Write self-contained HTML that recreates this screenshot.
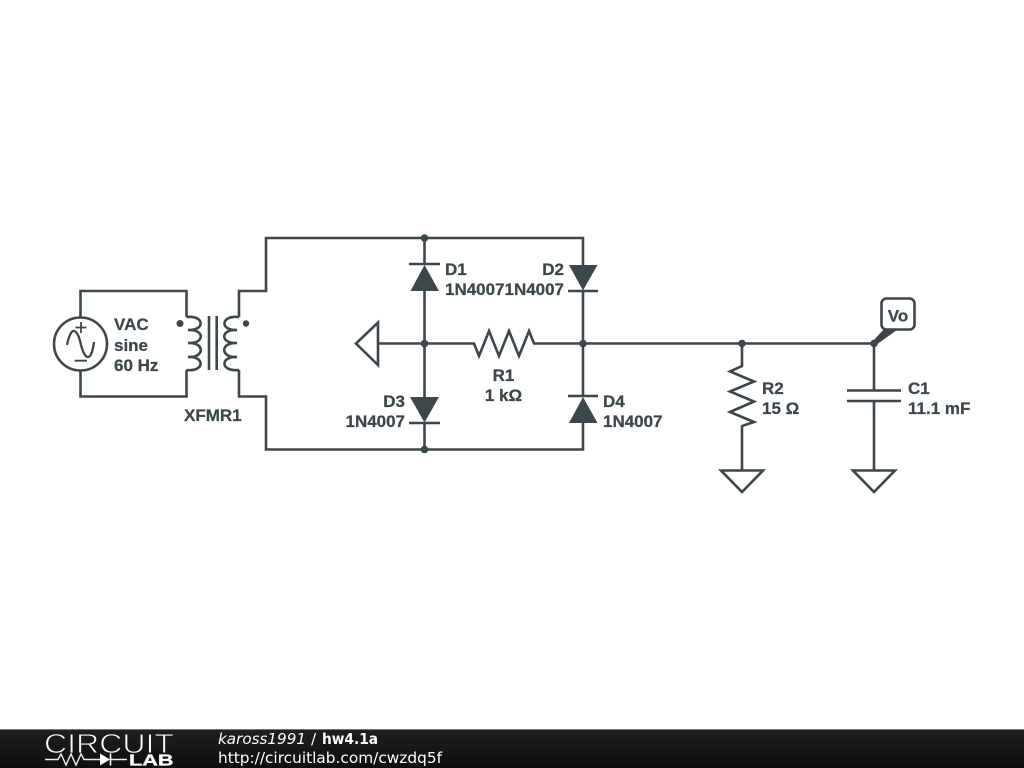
<!DOCTYPE html>
<html>
<head>
<meta charset="utf-8">
<title>hw4.1a</title>
<style>
html,body{margin:0;padding:0;background:#fff;width:1024px;height:768px;overflow:hidden}
svg{display:block;position:absolute;left:0;top:0}
.t{font-family:"Liberation Sans",sans-serif;font-weight:700;font-size:17px;fill:#3c474c;stroke:#3c474c;stroke-width:0.25px}
.f{font-family:"DejaVu Sans",sans-serif;font-size:15.3px;fill:#fff}
.sch{filter:blur(0.35px)}
</style>
</head>
<body>
<svg width="1024" height="768" viewBox="0 0 1024 768" xmlns="http://www.w3.org/2000/svg">
<defs>
<linearGradient id="bar" x1="0" y1="0" x2="0" y2="1">
<stop offset="0" stop-color="#202020"/><stop offset="1" stop-color="#0e0e0e"/>
</linearGradient>
</defs>
<g class="sch">
<g fill="none" stroke="#3c474c" stroke-width="2.600">
<!-- source wiring -->
<path d="M80.500 318V291H186.500V317"/>
<path d="M80.500 370V396.500H186.500V370"/>
<circle cx="80.500" cy="344" r="26.500"/>
<path d="M67 345C69 335 72 330 74 331C78 332 80 340 81 345C83 352 85 357 88 357C91 357 93 350 94 342" stroke-width="2.300"/>
<path d="M81 322V333M75.500 327.500H86.500M74.500 360.700H87" stroke-width="1.800"/>
<!-- transformer -->
<path d="M186.500 317C205 315 205 331 188 330C205 329 205 344 188 343C205 342 205 358 188 357C205 356 205 372 186.500 370"/>
<path d="M239 317C220 315 220 331 237 330C220 329 220 344 237 343C220 342 220 358 237 357C220 356 220 372 239 370"/>
<path d="M209 316V370M216.700 316V370"/>
<!-- bridge wiring -->
<path d="M239 317V291H266V238H583V265"/>
<path d="M239 370V396.500H266V449.500H583V422"/>
<path d="M424.500 238V264M424.500 290V397M424.500 423V449.500"/>
<path d="M583 291V397"/>
<!-- diode bars -->
<path d="M409 264H440M568 291H598M409 423H440M568 396H598"/>
<!-- left ground -->
<path d="M378 322.500V365L356 343.500Z"/>
<!-- R1 and output line -->
<path d="M378 343.500H474L479 356L489 331L499 356L509 331L519 356L529 331L534 343.500H874"/>
<!-- R2 -->
<path d="M742 343.500V366L730 371.500L754 381.500L730 391.500L754 401.500L730 412L754 422L742 426V470"/>
<path d="M721 470.500H763L742 492Z"/>
<!-- C1 -->
<path d="M874 343.500V390M874 401V470"/>
<path d="M847 390.500H901M847 401H901"/>
<path d="M853 470.500H895L874 492Z"/>
<!-- Vo flag -->
<rect x="881.500" y="298.500" width="33" height="31" rx="5" ry="5" fill="#fff"/>
</g>
<g fill="#3c474c">
<circle cx="180" cy="323.500" r="3.500"/>
<circle cx="246" cy="323.500" r="3.200"/>
<polygon points="424.500,265 410.500,291 439,291"/>
<polygon points="569,265 597.500,265 583,290.500"/>
<polygon points="410,397 439,397 424.500,422.500"/>
<polygon points="583,397 569,423 597.500,423"/>
<circle cx="424.500" cy="238" r="3.800"/>
<circle cx="424.500" cy="343.500" r="3.800"/>
<circle cx="583" cy="343.500" r="3.800"/>
<circle cx="424.500" cy="449.500" r="3.800"/>
<circle cx="742" cy="343.500" r="3.800"/>
<circle cx="874" cy="343.500" r="3.800"/>
<polygon points="873,341 884,329 897,330 876,345"/>
</g>
<g>
<text class="t" x="114" y="330">VAC</text>
<text class="t" x="114" y="351">sine</text>
<text class="t" x="114" y="371">60 Hz</text>
<text class="t" x="184" y="421">XFMR1</text>
<text class="t" x="445" y="275">D1</text>
<text class="t" x="445" y="295" textLength="59.500" lengthAdjust="spacingAndGlyphs">1N4007</text>
<text class="t" x="504.500" y="295" textLength="59.500" lengthAdjust="spacingAndGlyphs">1N4007</text>
<text class="t" x="564" y="275" text-anchor="end">D2</text>
<text class="t" x="405" y="407" text-anchor="end">D3</text>
<text class="t" x="345.500" y="427" textLength="59.500" lengthAdjust="spacingAndGlyphs">1N4007</text>
<text class="t" x="603" y="407">D4</text>
<text class="t" x="603" y="427" textLength="59.500" lengthAdjust="spacingAndGlyphs">1N4007</text>
<text class="t" x="503.500" y="381" text-anchor="middle">R1</text>
<text class="t" x="503.500" y="401" text-anchor="middle">1 kΩ</text>
<text class="t" x="762" y="394">R2</text>
<text class="t" x="762" y="414">15 Ω</text>
<text class="t" x="908" y="394">C1</text>
<text class="t" x="908" y="414">11.1 mF</text>
<text class="t" x="898" y="321.500" text-anchor="middle">Vo</text>
</g>
</g>
<!-- footer -->
<rect x="0" y="729" width="1024" height="39" fill="url(#bar)"/>
<rect x="0" y="729" width="1024" height="1" fill="#777"/>
<text x="44" y="753" font-family="'Liberation Sans',sans-serif" font-size="28" textLength="130" lengthAdjust="spacingAndGlyphs" fill="#fff" stroke="#1a1a1a" stroke-width="0.900">CIRCUIT</text>
<path d="M45 759.500H58L61 754L66 765L71 754L76 765L81 754L84 759.500H100M111 759.500H127" fill="none" stroke="#eee" stroke-width="1.400"/>
<polygon points="100,753.500 100,765.500 110,759.500" fill="#fff"/>
<path d="M110.500 753.500V765.500" stroke="#fff" stroke-width="1.600"/>
<text x="129" y="765.500" font-family="'Liberation Sans',sans-serif" font-size="15.500" font-weight="700" textLength="44.500" lengthAdjust="spacingAndGlyphs" fill="#fff" stroke="#fff" stroke-width="0.300">LAB</text>
<text class="f" x="218" y="744" font-style="italic" textLength="88" lengthAdjust="spacingAndGlyphs">kaross1991</text>
<text class="f" x="311" y="744">/</text>
<text class="f" x="322" y="744" font-weight="700" textLength="56" lengthAdjust="spacingAndGlyphs">hw4.1a</text>
<text class="f" x="218" y="763" textLength="224" lengthAdjust="spacingAndGlyphs">http://circuitlab.com/cwzdq5f</text>
</svg>
</body>
</html>
